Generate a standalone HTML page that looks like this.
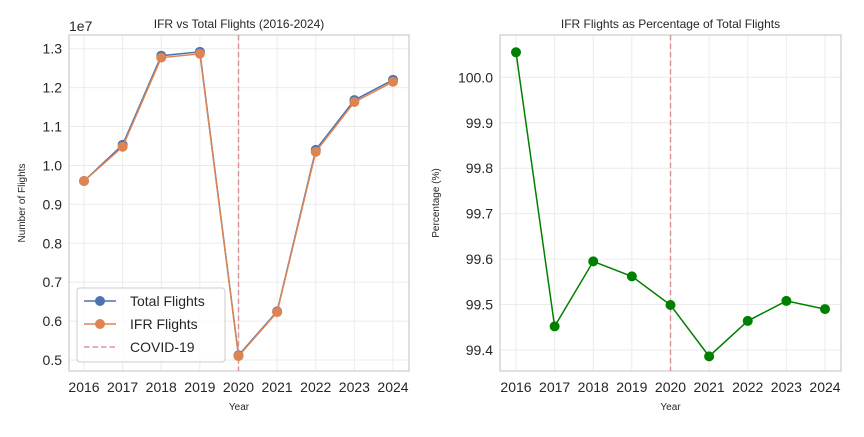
<!DOCTYPE html>
<html><head><meta charset="utf-8"><style>
body{margin:0;background:#fff}
svg{font-family:"Liberation Sans","DejaVu Sans",sans-serif}
</style></head><body>
<svg id="c" width="864" height="432" xmlns="http://www.w3.org/2000/svg"></svg>
<script>
const years=[2016,2017,2018,2019,2020,2021,2022,2023,2024];
const totalFlights=[9600000,10530000,12820000,12920000,5120000,6250000,10400000,11680000,12200000];
const ifrFlights=[9600000,10480000,12770000,12870000,5100000,6230000,10350000,11630000,12150000];
const pct=[100.055,99.452,99.595,99.562,99.499,99.386,99.464,99.508,99.490];
const leftTicks=[0.5,0.6,0.7,0.8,0.9,1.0,1.1,1.2,1.3];
const rightTicks=[99.4,99.5,99.6,99.7,99.8,99.9,100.0];
const covidYear=2020;
const S=document.getElementById('c');const NS='http://www.w3.org/2000/svg';
function el(t,a,txt){const e=document.createElementNS(NS,t);for(const k in a)e.setAttribute(k,a[k]);if(txt!=null)e.textContent=txt;S.appendChild(e);return e;}
function panel(P){
 const xs=v=>P.x0+(v-2016)*(P.x1-P.x0)/8;
 const ys=v=>P.ya+(v-P.va)*(P.yb-P.ya)/(P.vb-P.va);
 let r=el('rect',{x:P.L,y:35,width:P.R-P.L,height:336,fill:'#fff'});
 
 years.forEach(y=>{let g=el('line',{x1:xs(y),x2:xs(y),y1:35,y2:371,stroke:'#ebebeb','stroke-width':1});
  
  let t=el('text',{x:xs(y),y:392,'font-size':14,'text-anchor':'middle',fill:'#262626'},y);
  });
 P.ticks.forEach(v=>{let g=el('line',{x1:P.L,x2:P.R,y1:ys(v),y2:ys(v),stroke:'#ebebeb','stroke-width':1});
  
  let t=el('text',{x:P.L-7,y:ys(v)+5,'font-size':14,'text-anchor':'end',fill:'#262626'},v.toFixed(1));
  });
 let b=el('rect',{x:P.L,y:35,width:P.R-P.L,height:336,fill:'none',stroke:'#ccc','stroke-width':1.2});
 
 let cv=el('line',{x1:xs(covidYear),x2:xs(covidYear),y1:35,y2:371,stroke:'#e0949a','stroke-width':1.5,'stroke-dasharray':'5.5,3'});
 
 P.series.forEach(s=>{let pts=s.v.map((v,i)=>xs(years[i])+','+ys(v/P.scale)).join(' ');
  let l=el('polyline',{points:pts,fill:'none',stroke:s.c,'stroke-width':1.5});
  
  s.v.forEach((v,i)=>{let c=el('circle',{cx:xs(years[i]),cy:ys(v/P.scale),r:5,fill:s.c});
   });});
 let tt=el('text',{x:(P.L+P.R)/2,y:28,'font-size':12,'text-anchor':'middle',fill:'#262626'},P.title);
 
 let xl=el('text',{x:(P.L+P.R)/2,y:410,'font-size':10,'text-anchor':'middle',fill:'#262626'},'Year');
 
 let yl=el('text',{x:0,y:0,'font-size':10,'text-anchor':'middle',fill:'#262626',transform:`translate(${P.ylx},203) rotate(-90)`},P.ylabel);
 
}
panel({id:'left',L:69,R:409,x0:84,x1:393,ya:360,yb:48.7,va:0.5,vb:1.3,scale:1e7,ticks:leftTicks,title:'IFR vs Total Flights (2016-2024)',ylabel:'Number of Flights',ylx:25,
 series:[{n:'total-flights',c:'#4c72b0',v:totalFlights},{n:'ifr-flights',c:'#dd8452',v:ifrFlights}]});
panel({id:'right',L:500,R:841,x0:516,x1:825,ya:350,yb:77.3,va:99.4,vb:100.0,scale:1,ticks:rightTicks,title:'IFR Flights as Percentage of Total Flights',ylabel:'Percentage (%)',ylx:439,
 series:[{n:'ifr-percentage',c:'#008000',v:pct}]});
let ex=el('text',{x:69,y:31,'font-size':14,fill:'#262626'},'1e7');

let lg=el('rect',{x:77,y:288,width:148,height:74,rx:3,fill:'#fff','fill-opacity':0.8,stroke:'#ccc'});

[['Total Flights','#4c72b0',0],['IFR Flights','#dd8452',0],['COVID-19','#e0949a',1]].forEach((e,i)=>{
 const y=301+i*23;
 let l=el('line',{x1:84,x2:116,y1:y,y2:y,stroke:e[1],'stroke-width':1.5,'stroke-dasharray':e[2]?'5.5,3':'none'});
 
 if(!e[2]){let c=el('circle',{cx:100,cy:y,r:5,fill:e[1]});}
 let t=el('text',{x:130,y:y+5,'font-size':14,fill:'#262626'},e[0]);
 
});
</script>
</body></html>
